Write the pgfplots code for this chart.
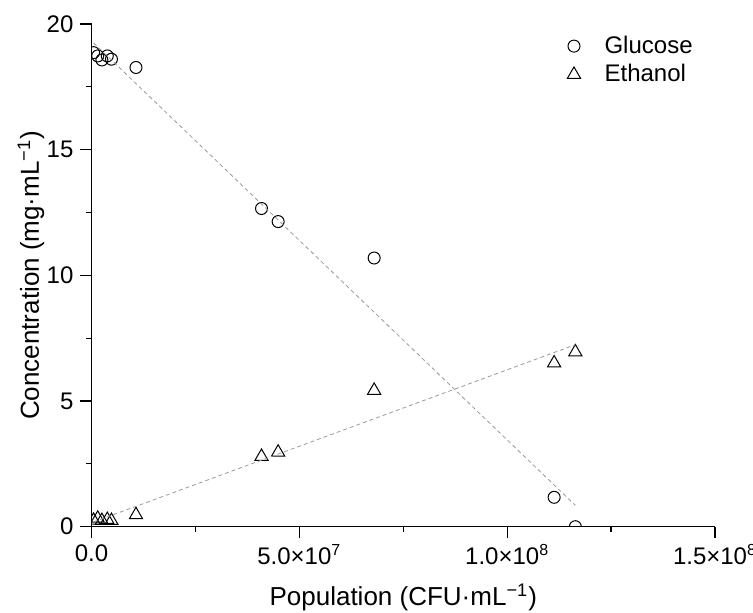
\documentclass[border=0pt]{standalone}
\usepackage{fontspec}
\setmainfont{Liberation Sans}
\usepackage{pgfplots}
\pgfplotsset{compat=1.18}
\begin{document}
\begin{tikzpicture}
\begin{axis}[
  name=ax,
  at={(0,0)}, anchor=south west,
  scale only axis,
  width=311.75pt, height=251.35pt,
  xmin=0, xmax=1.5e8, ymin=0, ymax=20,
  axis lines*=left,
  axis line style={line width=0.6pt, black},
  tick align=outside,
  major tick length=5.5pt,
  minor tick length=2.8pt,
  every tick/.style={line width=0.6pt, black},
  xtick={0,5e7,1e8,1.5e8},
  xticklabels={0.0, 5.0×10\textsuperscript{7}, 1.0×10\textsuperscript{8}, 1.5×10\textsuperscript{8}},
  ytick={0,5,10,15,20},
  yticklabels={0,5,10,15,20},
  minor x tick num=1,
  minor y tick num=1,
  scaled x ticks=false,
  ticklabel style={font=\fontsize{12}{13}\selectfont},
  xlabel={Population (CFU·mL\textsuperscript{−1})},
  ylabel={Concentration (mg·mL\textsuperscript{−1})},
  every axis x label/.style={at={(axis description cs:0.5,-0.14)}, anchor=center, font=\fontsize{13}{15}\selectfont},
  every axis y label/.style={at={(axis description cs:-0.097,0.5)}, rotate=90, anchor=center, font=\fontsize{13}{15}\selectfont},
  clip marker paths=true,
  legend style={draw=none, fill=none, at={(rel axis cs:0.753,0.993)}, anchor=north west,
    font=\fontsize{12}{14}\selectfont, row sep=0pt,
    /tikz/every odd column/.append style={column sep=10pt}},
  legend cell align=left,
]
\addplot[only marks, mark=o, mark size=3pt, mark options={fill=white, draw=black, line width=0.5pt}]
coordinates {
(0.5e6,18.86) (1.5e6,18.73) (2.5e6,18.57) (3.8e6,18.73) (4.8e6,18.60) (1.07e7,18.27)
(4.09e7,12.66) (4.49e7,12.14) (6.80e7,10.69) (1.113e8,1.17) (1.164e8,0.0)
};
\addlegendentry{Glucose}
\addplot[only marks, mark=triangle, mark size=3.8pt, mark options={fill=white, draw=black, line width=0.5pt}]
coordinates {
(0.5e6,0.25) (1.5e6,0.33) (2.5e6,0.24) (3.8e6,0.28) (4.8e6,0.24) (1.07e7,0.47)
(4.09e7,2.79) (4.49e7,2.96) (6.80e7,5.42) (1.113e8,6.51) (1.164e8,6.95)
};
\addlegendentry{Ethanol}
\addplot[forget plot, gray!80, line width=0.4pt, dash pattern=on 2pt off 1.5pt]
coordinates {(0.5e6,19.25) (1.164e8,0.85)};
\addplot[forget plot, gray!80, line width=0.4pt, dash pattern=on 2pt off 1.5pt]
coordinates {(0.5e6,0.19) (1.164e8,7.24)};
\end{axis}
\pgfresetboundingbox
\useasboundingbox ([xshift=-45.75pt,yshift=-42.65pt]ax.south west) rectangle ([xshift=330.75pt,yshift=263.35pt]ax.south west);
\end{tikzpicture}
\end{document}
